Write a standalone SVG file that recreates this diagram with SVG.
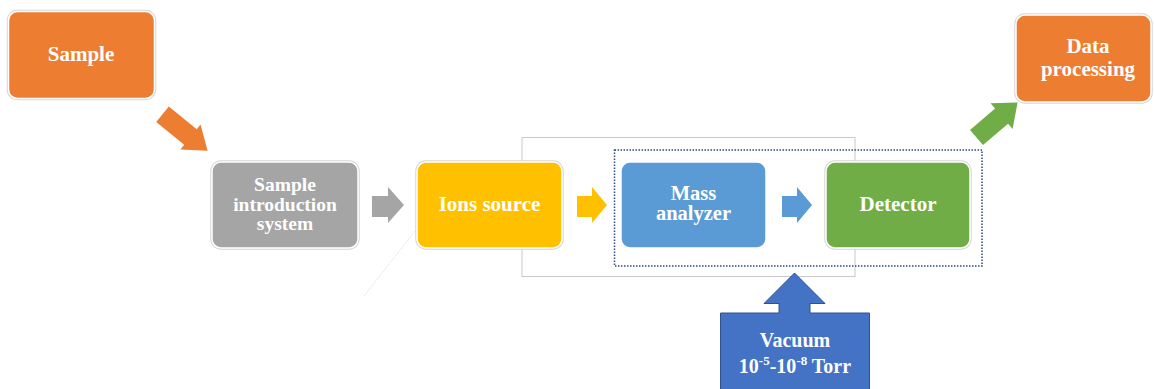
<svg xmlns="http://www.w3.org/2000/svg" width="1155" height="389" viewBox="0 0 1155 389">
<style>
.box{stroke:#ffffff;stroke-width:1.5}
.halo{fill:none;stroke:#d6d6d6;stroke-width:3.5}
.t{font-family:"Liberation Serif","Times New Roman",serif;font-weight:bold;fill:#ffffff;text-anchor:middle}
</style>
<rect width="1155" height="389" fill="#ffffff"/>
<g id="frames">
<line x1="415" y1="231" x2="364" y2="296" stroke="#e4e4e4" stroke-width="1" stroke-dasharray="2,1"/>
<rect x="522" y="137.5" width="333" height="139" fill="none" stroke="#c9c9c9" stroke-width="1"/>
<rect x="614.5" y="150" width="367.5" height="116" fill="none" stroke="#2f4a80" stroke-width="1.5" stroke-dasharray="1.5,1.5"/>
</g>
<g id="connectors">
<path d="M0,-10 L36,-10 L36,-16 L58,0 L36,16 L36,10 L0,10 Z" fill="#ED7D31" transform="translate(162.5,114.3) rotate(39)"/>
<polygon points="372,196 388,196 388,187 404,205 388,223 388,217 372,217" fill="#A5A5A5"/>
<polygon points="577,196 592,196 592,187 607,205 592,223 592,217 577,217" fill="#FFC000"/>
<polygon points="782,196 797,196 797,187 812,205 797,223 797,217 782,217" fill="#5B9BD5"/>
<path d="M0,-10 L33,-10 L33,-17 L54,0 L33,17 L33,10 L0,10 Z" fill="#70AD47" transform="translate(976.5,137.5) rotate(-40.5)"/>
</g>
<g id="sample">
<rect class="halo" x="8.5" y="11.5" width="146" height="87" rx="9"/>
<rect class="box" x="8.5" y="11.5" width="146" height="87" rx="9" fill="#ED7D31"/>
<text class="t" x="81" y="61" font-size="21">Sample</text>
</g>
<g id="sample-introduction">
<rect class="halo" x="212" y="162" width="146" height="86" rx="9"/>
<rect class="box" x="212" y="162" width="146" height="86" rx="9" fill="#A5A5A5"/>
<text class="t" x="285" y="191" font-size="19.5">Sample</text>
<text class="t" x="285" y="210.5" font-size="19.5">introduction</text>
<text class="t" x="285" y="230" font-size="19.5">system</text>
</g>
<g id="ions-source">
<rect class="halo" x="417" y="162" width="145" height="86" rx="9"/>
<rect class="box" x="417" y="162" width="145" height="86" rx="9" fill="#FFC000"/>
<text class="t" x="489.5" y="211" font-size="21">Ions source</text>
</g>
<g id="mass-analyzer">
<rect class="box" x="621" y="162" width="145" height="86" rx="9" fill="#5B9BD5"/>
<text class="t" x="693.5" y="200" font-size="20.5">Mass</text>
<text class="t" x="693.5" y="220" font-size="20.5">analyzer</text>
</g>
<g id="detector">
<rect class="halo" x="826" y="162" width="144" height="86" rx="9"/>
<rect class="box" x="826" y="162" width="144" height="86" rx="9" fill="#70AD47"/>
<text class="t" x="898" y="211" font-size="21">Detector</text>
</g>
<g id="data-processing">
<rect class="halo" x="1016" y="15" width="135" height="87" rx="9"/>
<rect class="box" x="1016" y="15" width="135" height="87" rx="9" fill="#ED7D31"/>
<text class="t" x="1088" y="53" font-size="21">Data</text>
<text class="t" x="1088" y="76" font-size="21">processing</text>
</g>
<g id="vacuum">
<polygon points="794.5,273 825,303.5 810,303.5 810,313 869.5,313 869.5,392 720.5,392 720.5,313 779,313 779,303.5 764,303.5" fill="#4472C4" stroke="#2F528F" stroke-width="1"/>
<text class="t" x="795" y="347" font-size="20">Vacuum</text>
<text class="t" x="795" y="373" font-size="20">10<tspan font-size="13" dy="-8">-5</tspan><tspan dy="8">-10</tspan><tspan font-size="13" dy="-8">-8</tspan><tspan dy="8"> Torr</tspan></text>
</g>
</svg>
